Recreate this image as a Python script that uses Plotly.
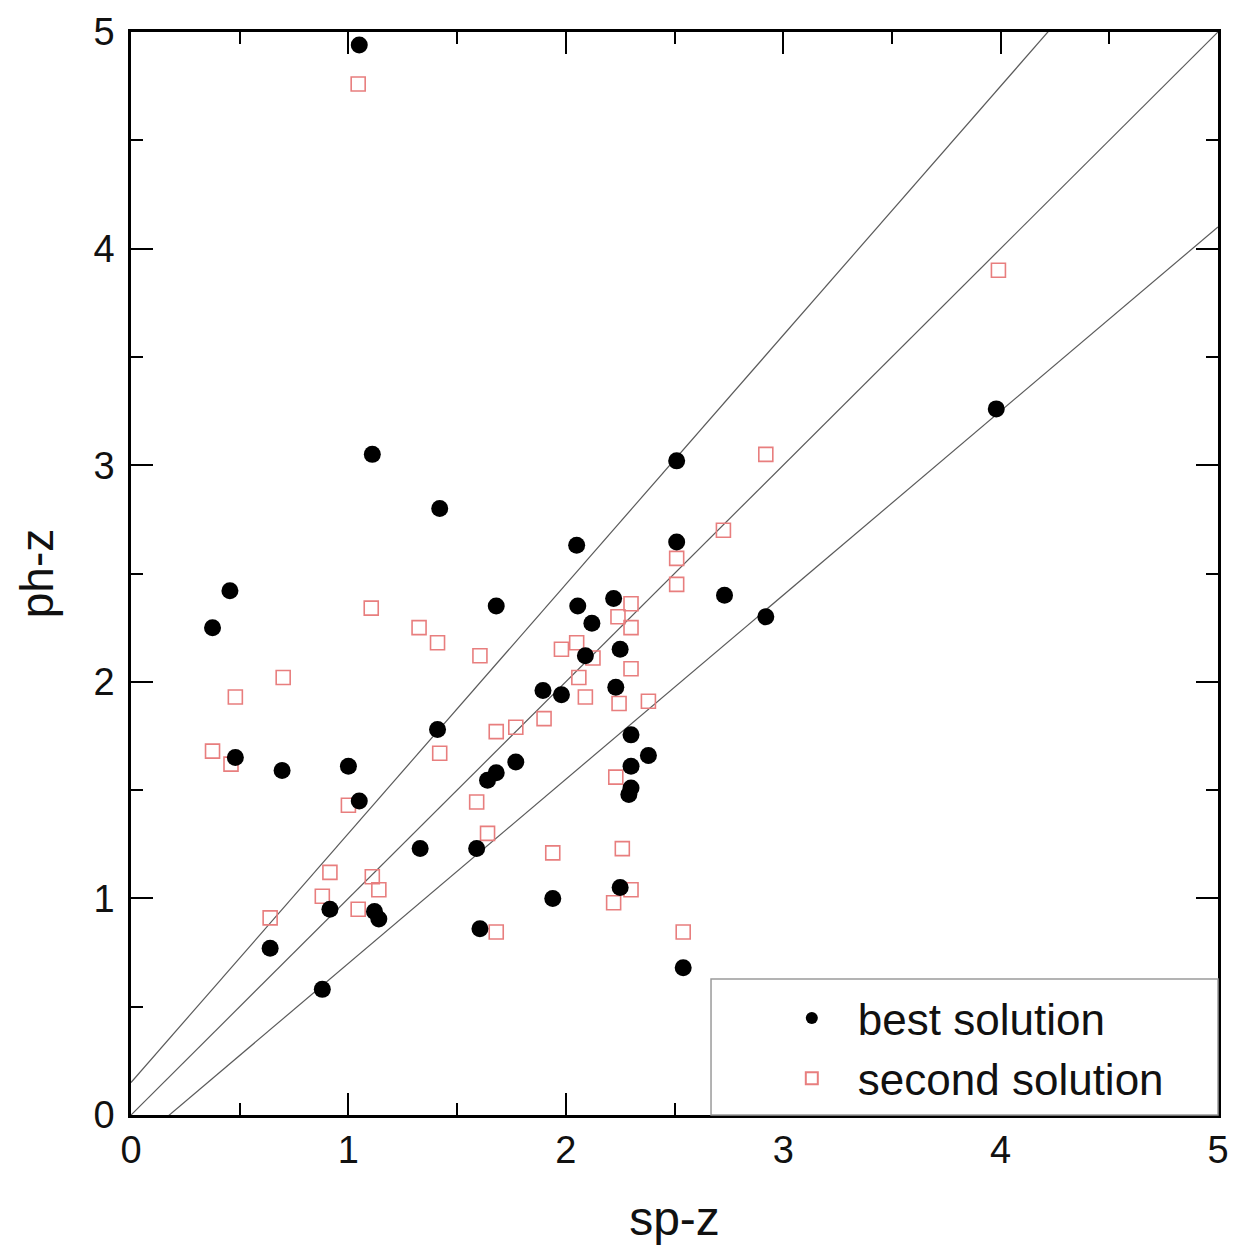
import plotly.graph_objects as go

# Photometric vs spectroscopic redshift, best and second-best template solutions
best_sp = [1.05, 1.11, 1.42, 0.455, 0.375, 1.68, 2.05, 2.51, 2.51, 2.055,
           2.22, 2.12, 2.09, 2.25, 1.895, 1.98, 2.23, 2.73, 2.92, 3.98,
           1.41, 2.30, 2.38, 2.30, 2.29, 2.30, 1.77, 1.68, 1.64, 0.48,
           0.695, 1.00, 1.05, 1.33, 1.59, 0.915, 0.64, 0.88, 1.12, 1.14,
           1.94, 1.605, 2.25, 2.54]
best_ph = [4.94, 3.05, 2.80, 2.42, 2.25, 2.35, 2.63, 3.02, 2.645, 2.35,
           2.385, 2.27, 2.12, 2.15, 1.96, 1.94, 1.975, 2.40, 2.30, 3.26,
           1.78, 1.755, 1.66, 1.61, 1.48, 1.51, 1.63, 1.58, 1.545, 1.65,
           1.59, 1.61, 1.45, 1.23, 1.23, 0.95, 0.77, 0.58, 0.94, 0.905,
           1.00, 0.86, 1.05, 0.68]

second_sp = [1.045, 1.105, 1.325, 1.41, 0.70, 0.48, 0.375, 0.46, 1.42, 1.605,
             2.05, 1.98, 2.125, 2.30, 2.24, 2.30, 2.30, 2.06, 2.09, 2.245,
             2.38, 1.90, 1.77, 1.68, 2.23, 1.59, 1.64, 1.94, 2.26, 2.30,
             2.22, 1.68, 2.54, 2.51, 2.51, 2.725, 2.92, 3.99, 1.00, 0.915,
             0.88, 0.64, 1.11, 1.14, 1.045]
second_ph = [4.76, 2.34, 2.25, 2.18, 2.02, 1.93, 1.68, 1.62, 1.67, 2.12,
             2.18, 2.15, 2.11, 2.36, 2.30, 2.25, 2.06, 2.02, 1.93, 1.90,
             1.91, 1.83, 1.79, 1.77, 1.56, 1.445, 1.30, 1.21, 1.23, 1.04,
             0.98, 0.845, 0.845, 2.57, 2.45, 2.70, 3.05, 3.90, 1.43, 1.12,
             1.01, 0.91, 1.10, 1.04, 0.95]

# one-to-one relation and the +/- 0.15(1+z) envelope
axis_range = [0, 5]
tolerance = 0.15
ref_x = [0, 5]

FONT = "Liberation Sans, Arial, sans-serif"

fig = go.Figure()

for k in (-1, 0, 1):
    fig.add_trace(go.Scatter(
        x=ref_x,
        y=[x + k * tolerance * (1 + x) for x in ref_x],
        mode="lines",
        line=dict(color="#5a5a5a", width=1.2),
        showlegend=False,
        hoverinfo="skip",
    ))

fig.add_trace(go.Scatter(
    x=second_sp, y=second_ph, mode="markers", name="second solution",
    marker=dict(symbol="square-open", size=14, color="#e87e7e",
                line=dict(width=1.6, color="#e87e7e")),
))
fig.add_trace(go.Scatter(
    x=best_sp, y=best_ph, mode="markers", name="best solution",
    marker=dict(symbol="circle", size=17, color="black"),
))

axis_common = dict(
    range=axis_range,
    dtick=1,
    automargin=False,
    ticks="inside",
    ticklen=22,
    tickwidth=2,
    tickcolor="black",
    showline=True,
    linecolor="black",
    linewidth=2.5,
    mirror="allticks",
    showgrid=False,
    zeroline=False,
    tickfont=dict(family=FONT, size=38, color="#111"),
    minor=dict(dtick=0.5, ticks="inside", ticklen=12, tickwidth=2, tickcolor="black",
               showgrid=False),
)

fig.update_xaxes(
    **axis_common,
    ticklabelstandoff=0,
    title=dict(text="sp-z", standoff=32, font=dict(family=FONT, size=48, color="#111")),
)
fig.update_yaxes(
    **axis_common,
    ticklabelstandoff=6,
    title=dict(text="ph-z", standoff=26, font=dict(family=FONT, size=46, color="#111")),
)

# legend frame spanning the lower-right corner of the plot area
fig.add_shape(
    type="rect", xref="paper", yref="paper",
    x0=0.5336, x1=1.0, y0=0.0, y1=0.1256,
    fillcolor="white", line=dict(color="#9a9a9a", width=1.5),
    layer="above",
)

fig.update_layout(
    width=1239,
    height=1248,
    margin=dict(l=131, r=21, t=32, b=133, autoexpand=False),
    plot_bgcolor="white",
    paper_bgcolor="white",
    legend=dict(
        x=0.584, y=0.001, xanchor="left", yanchor="bottom",
        traceorder="reversed",
        bgcolor="rgba(0,0,0,0)",
        borderwidth=0,
        itemwidth=82,
        itemsizing="constant",
        font=dict(family=FONT, size=44, color="#111"),
    ),
)

fig.write_html("out.html")
